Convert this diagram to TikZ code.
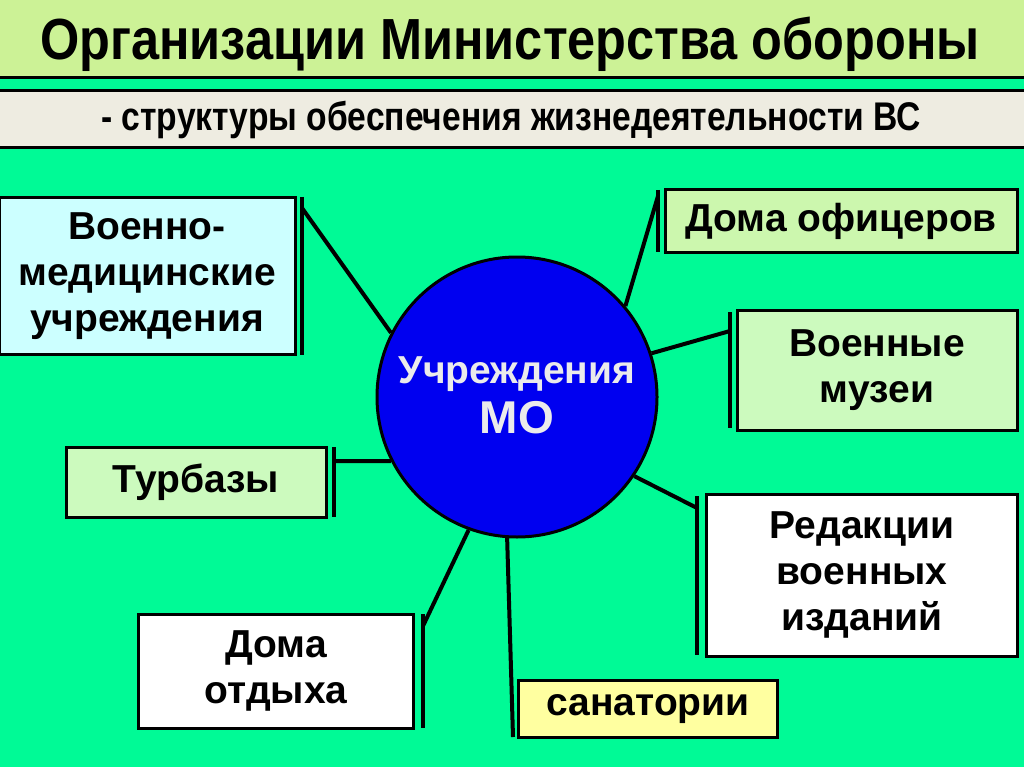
\documentclass[tikz,border=0pt]{standalone}
\usepackage{fontspec}
\setmainfont{Liberation Sans}
\begin{document}
\begin{tikzpicture}[x=1pt,y=-1pt,
  bx/.style={draw=black,line width=3pt,align=center,font=\fontsize{39}{46}\selectfont\bfseries,inner sep=0pt},
  brk/.style={line width=4pt},
  con/.style={line width=4pt}]
\definecolor{bg}{RGB}{0,250,150}
\definecolor{tband}{RGB}{204,242,150}
\definecolor{sband}{RGB}{238,236,225}
\definecolor{cyanb}{RGB}{204,255,255}
\definecolor{lgreen}{RGB}{204,250,190}
\definecolor{lyel}{RGB}{255,255,160}
\definecolor{cblue}{RGB}{0,0,240}
\useasboundingbox (0,0) rectangle (1024,767);
\fill[bg] (0,0) rectangle (1024,767);
\fill[tband] (0,0) rectangle (1024,77);
\draw[line width=3pt] (0,78) -- (1024,78);
\fill[sband] (0,91) rectangle (1024,147);
\draw[line width=3pt] (0,91) -- (1024,91);
\draw[line width=3pt] (0,148) -- (1024,148);
\node[font=\fontsize{58}{64}\selectfont\bfseries,xscale=0.87] (title) at (510,44) {Организации Министерства обороны};
\node[font=\fontsize{40}{46}\selectfont\bfseries,xscale=0.84] (sub) at (511,120) {- структуры обеспечения жизнедеятельности ВС};
% circle
\node[circle,draw=black,line width=3pt,fill=cblue,minimum size=280pt,inner sep=0pt] (c) at (517,397) {};
\node[text=white!92!black,align=center,font=\fontsize{39}{52}\selectfont\bfseries] (ct) at (517,395) {Учреждения\\[-2pt]\fontsize{46}{52}\selectfont МО};
% boxes
\node[bx,fill=cyanb,minimum width=296pt,minimum height=157pt] (vm) at (147,276) {Военно-\\медицинские\\учреждения};
\node[bx,fill=lgreen,minimum width=260pt,minimum height=70pt] (tb) at (196,482) {Турбазы};
\node[bx,fill=white,minimum width=275pt,minimum height=114pt] (do) at (276,671) {Дома\\отдыха};
\node[bx,fill=lyel,minimum width=259pt,minimum height=57pt] (san) at (648,709) {санатории};
\node[bx,fill=white,minimum width=311pt,minimum height=162pt] (red) at (862,575) {Редакции\\военных\\изданий};
\node[bx,fill=lgreen,minimum width=280pt,minimum height=120pt] (mus) at (877,370) {Военные\\музеи};
\node[bx,fill=lgreen!60!tband,minimum width=352pt,minimum height=62pt] (of) at (841,221) {Дома офицеров};
% brackets
\coordinate (b1t) at (302,197); \coordinate (b1b) at (302,355);
\draw[brk] (b1t) -- (b1b);
\coordinate (b2t) at (334,447); \coordinate (b2b) at (334,517);
\draw[brk] (b2t) -- (b2b);
\coordinate (b3t) at (423,614); \coordinate (b3b) at (423,728);
\draw[brk] (b3t) -- (b3b);
\coordinate (b4b) at (513,737);
\coordinate (b5t) at (697,496); \coordinate (b5b) at (697,655);
\draw[brk] (b5t) -- (b5b);
\coordinate (b6t) at (730,312); \coordinate (b6b) at (730,428);
\draw[brk] (b6t) -- (b6b);
\coordinate (b7t) at (658,190); \coordinate (b7b) at (658,252);
\draw[brk] (b7t) -- (b7b);
% connectors
\draw[con] (b1t|-0,208) -- (c.153);
\draw[con] (b2t|-0,461) -- (c.207);
\draw[con] (b3t|-0,626) -- (c.250);
\draw[con] (c.266) -- (b4b);
\draw[con] (b5t|-0,508) -- (c.326);
\draw[con] (b6t|-0,331) -- (c.18);
\draw[con] (b7t|-0,196) -- (c.40);
\end{tikzpicture}
\end{document}
